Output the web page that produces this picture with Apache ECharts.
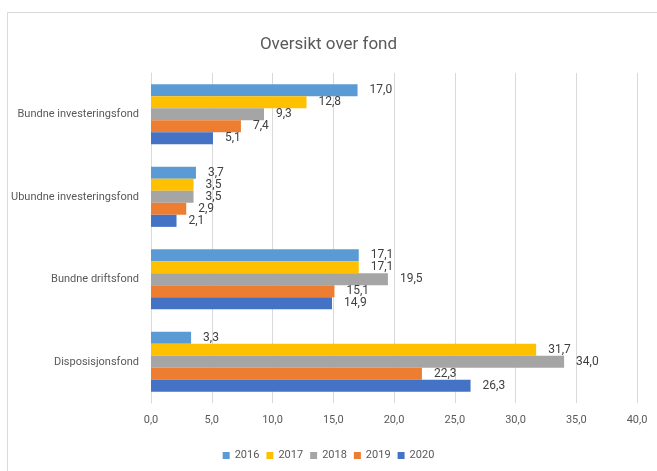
<!DOCTYPE html>
<html>
<head>
<meta charset="utf-8">
<script src="https://cdn.jsdelivr.net/npm/echarts@6/dist/echarts.min.js"></script>
<style>
  html, body { margin: 0; padding: 0; background: #fff; }
  #chart { width: 657px; height: 471px; }
</style>
</head>
<body>
<div id="chart"></div>
<script>
// kategorier, ovenfra og ned
const categories = ['Bundne investeringsfond', 'Ubundne investeringsfond', 'Bundne driftsfond', 'Disposisjonsfond']
const years = ['2016', '2017', '2018', '2019', '2020']
const v2016 = [17.0, 3.7, 17.1, 3.3]
const v2017 = [12.8, 3.5, 17.1, 31.7]
const v2018 = [9.3, 3.5, 19.5, 34.0]
const v2019 = [7.4, 2.9, 15.1, 22.3]
const v2020 = [5.1, 2.1, 14.9, 26.3]
const values = [v2016, v2017, v2018, v2019, v2020]
const colors = ['#5B9BD5', '#FFC000', '#A5A5A5', '#ED7D31', '#4472C4']

const font = 'Roboto, sans-serif'
const comma = v => v.toFixed(1).replace('.', ',')

const chart = echarts.init(document.getElementById('chart'))

chart.setOption({
  animation: false,
  textStyle: { fontFamily: font },
  title: {
    text: 'Oversikt over fond',
    left: 'center',
    top: 31,
    textStyle: { fontSize: 17, fontWeight: 'normal', color: '#595959', fontFamily: font }
  },
  graphic: [
    {
      // ytre ramme rundt diagrammet
      type: 'rect',
      shape: { x: 7.5, y: 12.5, width: 700, height: 500 },
      style: { fill: 'none', stroke: '#D9D9D9', lineWidth: 1 },
      silent: true
    }
  ],
  legend: {
    data: years,
    bottom: 5,
    left: 'center',
    itemWidth: 7,
    itemHeight: 7,
    itemGap: 7,
    icon: 'rect',
    textStyle: { fontSize: 11, color: '#595959', fontFamily: font }
  },
  grid: {
    left: 151,
    right: 20,
    top: 73,
    bottom: 68,
    containLabel: false,
    outerBoundsMode: 'none'
  },
  xAxis: {
    type: 'value',
    min: 0,
    max: 40,
    interval: 5,
    axisLine: { show: false },
    axisTick: { show: false },
    splitLine: { lineStyle: { color: '#D9D9D9' } },
    axisLabel: {
      formatter: v => comma(v),
      fontSize: 11,
      color: '#595959',
      margin: 12,
      fontFamily: font
    }
  },
  yAxis: {
    type: 'category',
    inverse: true,
    data: categories,
    axisLine: { lineStyle: { color: '#D9D9D9' } },
    axisTick: { show: false },
    axisLabel: { fontSize: 11, color: '#595959', margin: 12, fontFamily: font }
  },
  series: years.map((y, i) => ({
    name: y,
    type: 'bar',
    data: values[i],
    barGap: '0%',
    barCategoryGap: '27%',
    itemStyle: { color: colors[i] },
    label: {
      show: true,
      position: 'right',
      distance: 12,
      formatter: p => comma(p.value),
      fontSize: 12,
      color: '#404040',
      fontFamily: font
    }
  }))
})
</script>
</body>
</html>
